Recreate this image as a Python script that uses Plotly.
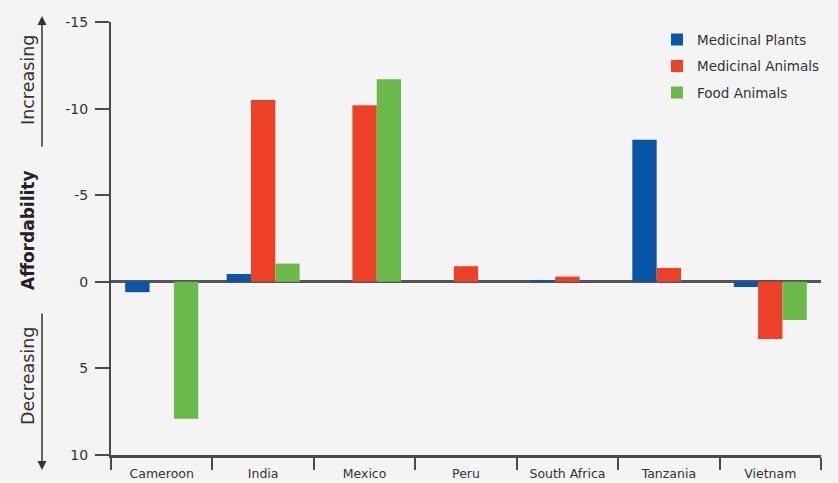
import plotly.graph_objects as go

countries = ["Cameroon", "India", "Mexico", "Peru", "South Africa", "Tanzania", "Vietnam"]
medicinal_plants = [0.6, -0.45, 0, 0, -0.1, -8.2, 0.3]
medicinal_animals = [0, -10.5, -10.2, -0.9, -0.3, -0.8, 3.3]
food_animals = [7.9, -1.05, -11.7, 0, 0, 0, 2.2]

y_tickvals = [-15, -10, -5, 0, 5, 10]
y_ticktext = ["-15", "-10", "-5", "0", "5", "10"]

series = [
    ("Medicinal Plants", medicinal_plants, "#0a55a8"),
    ("Medicinal Animals", medicinal_animals, "#ec4127"),
    ("Food Animals", food_animals, "#6bb94b"),
]

BG = "#f4f4f4"
FONT = "DejaVu Sans"
fig = go.Figure()
for name, vals, color in series:
    fig.add_trace(go.Bar(x=countries, y=vals, name=name, marker_color=color,
                         marker_line_width=0, legendgroup=name))

fig.update_layout(
    width=838, height=483,
    margin=dict(l=111, r=17, t=22, b=28, autoexpand=False),
    paper_bgcolor=BG, plot_bgcolor=BG,
    barmode="group", bargap=0.28, bargroupgap=0,
    font=dict(family=FONT, size=12, color="#333"),
    showlegend=True,
    legend=dict(x=0.769, y=0.995, xanchor="left", yanchor="top",
                bgcolor="rgba(0,0,0,0)", font=dict(size=13.5, color="#333"),
                traceorder="grouped", tracegroupgap=6, itemwidth=30),
    xaxis=dict(automargin=False, showgrid=False, showline=True, linecolor="#4a4a4a", linewidth=2.5,
               ticks="outside", tickson="boundaries", ticklen=12, tickwidth=2,
               tickcolor="#4a4a4a", ticklabelstandoff=5,
               tickfont=dict(size=12.5, color="#333")),
    yaxis=dict(automargin=False, range=[10, -15], showgrid=False, showline=True, linecolor="#4a4a4a",
               linewidth=2, ticks="outside", ticklen=14, tickwidth=2, tickcolor="#4a4a4a",
               ticklabelstandoff=4,
               tickvals=y_tickvals, ticktext=y_ticktext,
               zeroline=True, zerolinecolor="#555", zerolinewidth=3,
               tickfont=dict(size=14, color="#333")),
)

def px_x(px):
    return (px - 111) / 710.0

def px_y(py):
    return (455 - py) / 433.0

fig.add_annotation(text="Increasing", xref="paper", yref="paper", x=px_x(28), y=px_y(80),
                   xanchor="center", yanchor="middle",
                   textangle=-90, showarrow=False, font=dict(size=17.5, color="#333"))
fig.add_annotation(text="<b>Affordability</b>", xref="paper", yref="paper", x=px_x(28), y=px_y(230),
                   xanchor="center", yanchor="middle",
                   textangle=-90, showarrow=False, font=dict(size=17, color="#222"))
fig.add_annotation(text="Decreasing", xref="paper", yref="paper", x=px_x(28), y=px_y(376),
                   xanchor="center", yanchor="middle",
                   textangle=-90, showarrow=False, font=dict(size=17.5, color="#333"))

fig.add_annotation(text="", xref="paper", yref="paper", x=px_x(42), y=px_y(16),
                   ax=0, ay=132, showarrow=True, arrowhead=2, arrowsize=1.2,
                   arrowwidth=1.5, arrowcolor="#333")
fig.add_annotation(text="", xref="paper", yref="paper", x=px_x(42), y=px_y(470),
                   ax=0, ay=-158, showarrow=True, arrowhead=2, arrowsize=1.2,
                   arrowwidth=1.5, arrowcolor="#333")

page_js = ("document.body.style.margin='0';"
           "document.body.style.background='%s';"
           "document.documentElement.style.background='%s';" % (BG, BG))

fig.write_html("out.html", post_script=page_js, config={"displayModeBar": False})
